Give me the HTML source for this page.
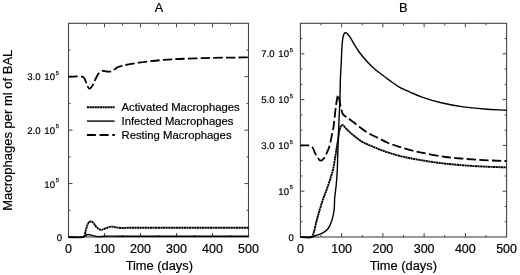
<!DOCTYPE html>
<html><head><meta charset="utf-8"><style>
html,body{margin:0;padding:0;background:#fff;}
body{width:520px;height:275px;overflow:hidden;}
svg{display:block;will-change:transform;}
text{-webkit-font-smoothing:antialiased;}
text{font-family:"Liberation Sans", sans-serif;fill:#000;stroke:#000;stroke-width:0.2px;}
</style></head><body>
<svg width="520" height="275" viewBox="0 0 520 275">
<rect x="68.5" y="23.3" width="180.00" height="213.70" fill="none" stroke="#444" stroke-width="1.1"/>
<line x1="86.50" y1="237.0" x2="86.50" y2="235.0" stroke="#444" stroke-width="1"/>
<line x1="86.50" y1="23.3" x2="86.50" y2="25.3" stroke="#444" stroke-width="1"/>
<line x1="104.50" y1="237.0" x2="104.50" y2="233.0" stroke="#444" stroke-width="1"/>
<line x1="104.50" y1="23.3" x2="104.50" y2="27.3" stroke="#444" stroke-width="1"/>
<line x1="122.50" y1="237.0" x2="122.50" y2="235.0" stroke="#444" stroke-width="1"/>
<line x1="122.50" y1="23.3" x2="122.50" y2="25.3" stroke="#444" stroke-width="1"/>
<line x1="140.50" y1="237.0" x2="140.50" y2="233.0" stroke="#444" stroke-width="1"/>
<line x1="140.50" y1="23.3" x2="140.50" y2="27.3" stroke="#444" stroke-width="1"/>
<line x1="158.50" y1="237.0" x2="158.50" y2="235.0" stroke="#444" stroke-width="1"/>
<line x1="158.50" y1="23.3" x2="158.50" y2="25.3" stroke="#444" stroke-width="1"/>
<line x1="176.50" y1="237.0" x2="176.50" y2="233.0" stroke="#444" stroke-width="1"/>
<line x1="176.50" y1="23.3" x2="176.50" y2="27.3" stroke="#444" stroke-width="1"/>
<line x1="194.50" y1="237.0" x2="194.50" y2="235.0" stroke="#444" stroke-width="1"/>
<line x1="194.50" y1="23.3" x2="194.50" y2="25.3" stroke="#444" stroke-width="1"/>
<line x1="212.50" y1="237.0" x2="212.50" y2="233.0" stroke="#444" stroke-width="1"/>
<line x1="212.50" y1="23.3" x2="212.50" y2="27.3" stroke="#444" stroke-width="1"/>
<line x1="230.50" y1="237.0" x2="230.50" y2="235.0" stroke="#444" stroke-width="1"/>
<line x1="230.50" y1="23.3" x2="230.50" y2="25.3" stroke="#444" stroke-width="1"/>
<line x1="68.5" y1="210.29" x2="70.5" y2="210.29" stroke="#444" stroke-width="1"/>
<line x1="248.5" y1="210.29" x2="246.5" y2="210.29" stroke="#444" stroke-width="1"/>
<line x1="68.5" y1="183.57" x2="72.5" y2="183.57" stroke="#444" stroke-width="1"/>
<line x1="248.5" y1="183.57" x2="244.5" y2="183.57" stroke="#444" stroke-width="1"/>
<line x1="68.5" y1="156.86" x2="70.5" y2="156.86" stroke="#444" stroke-width="1"/>
<line x1="248.5" y1="156.86" x2="246.5" y2="156.86" stroke="#444" stroke-width="1"/>
<line x1="68.5" y1="130.15" x2="72.5" y2="130.15" stroke="#444" stroke-width="1"/>
<line x1="248.5" y1="130.15" x2="244.5" y2="130.15" stroke="#444" stroke-width="1"/>
<line x1="68.5" y1="103.44" x2="70.5" y2="103.44" stroke="#444" stroke-width="1"/>
<line x1="248.5" y1="103.44" x2="246.5" y2="103.44" stroke="#444" stroke-width="1"/>
<line x1="68.5" y1="76.73" x2="72.5" y2="76.73" stroke="#444" stroke-width="1"/>
<line x1="248.5" y1="76.73" x2="244.5" y2="76.73" stroke="#444" stroke-width="1"/>
<line x1="68.5" y1="50.01" x2="70.5" y2="50.01" stroke="#444" stroke-width="1"/>
<line x1="248.5" y1="50.01" x2="246.5" y2="50.01" stroke="#444" stroke-width="1"/>
<rect x="300.4" y="23.3" width="206.20" height="213.70" fill="none" stroke="#444" stroke-width="1.1"/>
<line x1="321.02" y1="237.0" x2="321.02" y2="235.0" stroke="#444" stroke-width="1"/>
<line x1="321.02" y1="23.3" x2="321.02" y2="25.3" stroke="#444" stroke-width="1"/>
<line x1="341.64" y1="237.0" x2="341.64" y2="233.0" stroke="#444" stroke-width="1"/>
<line x1="341.64" y1="23.3" x2="341.64" y2="27.3" stroke="#444" stroke-width="1"/>
<line x1="362.26" y1="237.0" x2="362.26" y2="235.0" stroke="#444" stroke-width="1"/>
<line x1="362.26" y1="23.3" x2="362.26" y2="25.3" stroke="#444" stroke-width="1"/>
<line x1="382.88" y1="237.0" x2="382.88" y2="233.0" stroke="#444" stroke-width="1"/>
<line x1="382.88" y1="23.3" x2="382.88" y2="27.3" stroke="#444" stroke-width="1"/>
<line x1="403.50" y1="237.0" x2="403.50" y2="235.0" stroke="#444" stroke-width="1"/>
<line x1="403.50" y1="23.3" x2="403.50" y2="25.3" stroke="#444" stroke-width="1"/>
<line x1="424.12" y1="237.0" x2="424.12" y2="233.0" stroke="#444" stroke-width="1"/>
<line x1="424.12" y1="23.3" x2="424.12" y2="27.3" stroke="#444" stroke-width="1"/>
<line x1="444.74" y1="237.0" x2="444.74" y2="235.0" stroke="#444" stroke-width="1"/>
<line x1="444.74" y1="23.3" x2="444.74" y2="25.3" stroke="#444" stroke-width="1"/>
<line x1="465.36" y1="237.0" x2="465.36" y2="233.0" stroke="#444" stroke-width="1"/>
<line x1="465.36" y1="23.3" x2="465.36" y2="27.3" stroke="#444" stroke-width="1"/>
<line x1="485.98" y1="237.0" x2="485.98" y2="235.0" stroke="#444" stroke-width="1"/>
<line x1="485.98" y1="23.3" x2="485.98" y2="25.3" stroke="#444" stroke-width="1"/>
<line x1="300.4" y1="221.74" x2="302.4" y2="221.74" stroke="#444" stroke-width="1"/>
<line x1="506.6" y1="221.74" x2="504.6" y2="221.74" stroke="#444" stroke-width="1"/>
<line x1="300.4" y1="206.47" x2="302.4" y2="206.47" stroke="#444" stroke-width="1"/>
<line x1="506.6" y1="206.47" x2="504.6" y2="206.47" stroke="#444" stroke-width="1"/>
<line x1="300.4" y1="191.21" x2="304.4" y2="191.21" stroke="#444" stroke-width="1"/>
<line x1="506.6" y1="191.21" x2="502.6" y2="191.21" stroke="#444" stroke-width="1"/>
<line x1="300.4" y1="175.94" x2="302.4" y2="175.94" stroke="#444" stroke-width="1"/>
<line x1="506.6" y1="175.94" x2="504.6" y2="175.94" stroke="#444" stroke-width="1"/>
<line x1="300.4" y1="160.68" x2="302.4" y2="160.68" stroke="#444" stroke-width="1"/>
<line x1="506.6" y1="160.68" x2="504.6" y2="160.68" stroke="#444" stroke-width="1"/>
<line x1="300.4" y1="145.41" x2="304.4" y2="145.41" stroke="#444" stroke-width="1"/>
<line x1="506.6" y1="145.41" x2="502.6" y2="145.41" stroke="#444" stroke-width="1"/>
<line x1="300.4" y1="130.15" x2="302.4" y2="130.15" stroke="#444" stroke-width="1"/>
<line x1="506.6" y1="130.15" x2="504.6" y2="130.15" stroke="#444" stroke-width="1"/>
<line x1="300.4" y1="114.89" x2="302.4" y2="114.89" stroke="#444" stroke-width="1"/>
<line x1="506.6" y1="114.89" x2="504.6" y2="114.89" stroke="#444" stroke-width="1"/>
<line x1="300.4" y1="99.62" x2="304.4" y2="99.62" stroke="#444" stroke-width="1"/>
<line x1="506.6" y1="99.62" x2="502.6" y2="99.62" stroke="#444" stroke-width="1"/>
<line x1="300.4" y1="84.36" x2="302.4" y2="84.36" stroke="#444" stroke-width="1"/>
<line x1="506.6" y1="84.36" x2="504.6" y2="84.36" stroke="#444" stroke-width="1"/>
<line x1="300.4" y1="69.09" x2="302.4" y2="69.09" stroke="#444" stroke-width="1"/>
<line x1="506.6" y1="69.09" x2="504.6" y2="69.09" stroke="#444" stroke-width="1"/>
<line x1="300.4" y1="53.83" x2="304.4" y2="53.83" stroke="#444" stroke-width="1"/>
<line x1="506.6" y1="53.83" x2="502.6" y2="53.83" stroke="#444" stroke-width="1"/>
<line x1="300.4" y1="38.56" x2="302.4" y2="38.56" stroke="#444" stroke-width="1"/>
<line x1="506.6" y1="38.56" x2="504.6" y2="38.56" stroke="#444" stroke-width="1"/>
<text x="68.50" y="253.3" font-size="12.5" text-anchor="middle">0</text>
<text x="104.50" y="253.3" font-size="12.5" text-anchor="middle">100</text>
<text x="140.50" y="253.3" font-size="12.5" text-anchor="middle">200</text>
<text x="176.50" y="253.3" font-size="12.5" text-anchor="middle">300</text>
<text x="212.50" y="253.3" font-size="12.5" text-anchor="middle">400</text>
<text x="248.50" y="253.3" font-size="12.5" text-anchor="middle">500</text>
<text x="159.30" y="270" font-size="12.85" text-anchor="middle">Time (days)</text>
<text x="300.40" y="253.3" font-size="12.5" text-anchor="middle">0</text>
<text x="341.64" y="253.3" font-size="12.5" text-anchor="middle">100</text>
<text x="382.88" y="253.3" font-size="12.5" text-anchor="middle">200</text>
<text x="424.12" y="253.3" font-size="12.5" text-anchor="middle">300</text>
<text x="465.36" y="253.3" font-size="12.5" text-anchor="middle">400</text>
<text x="506.60" y="253.3" font-size="12.5" text-anchor="middle">500</text>
<text x="403.30" y="270" font-size="12.85" text-anchor="middle">Time (days)</text>
<text x="159.00" y="12.2" font-size="12.6" text-anchor="middle">A</text>
<text x="403.20" y="12.0" font-size="12.9" text-anchor="middle">B</text>
<text x="55.00" y="80.40" font-size="9.6" text-anchor="end" word-spacing="1.1" text-rendering="geometricPrecision">3.0 10</text>
<text x="55.80" y="74.90" font-size="5.7" text-rendering="geometricPrecision">5</text>
<text x="55.00" y="133.65" font-size="9.6" text-anchor="end" word-spacing="1.1" text-rendering="geometricPrecision">2.0 10</text>
<text x="55.80" y="128.15" font-size="5.7" text-rendering="geometricPrecision">5</text>
<text x="55.00" y="187.60" font-size="9.6" text-anchor="end" word-spacing="1.1" text-rendering="geometricPrecision">10</text>
<text x="55.80" y="182.10" font-size="5.7" text-rendering="geometricPrecision">5</text>
<text x="62.20" y="241.10" font-size="9.6" text-anchor="end" word-spacing="1.1" text-rendering="geometricPrecision">0</text>
<text x="289.00" y="57.25" font-size="9.6" text-anchor="end" word-spacing="1.1" text-rendering="geometricPrecision">7.0 10</text>
<text x="289.80" y="51.75" font-size="5.7" text-rendering="geometricPrecision">5</text>
<text x="289.00" y="103.10" font-size="9.6" text-anchor="end" word-spacing="1.1" text-rendering="geometricPrecision">5.0 10</text>
<text x="289.80" y="97.60" font-size="5.7" text-rendering="geometricPrecision">5</text>
<text x="289.00" y="149.10" font-size="9.6" text-anchor="end" word-spacing="1.1" text-rendering="geometricPrecision">3.0 10</text>
<text x="289.80" y="143.60" font-size="5.7" text-rendering="geometricPrecision">5</text>
<text x="289.00" y="194.80" font-size="9.6" text-anchor="end" word-spacing="1.1" text-rendering="geometricPrecision">10</text>
<text x="289.80" y="189.30" font-size="5.7" text-rendering="geometricPrecision">5</text>
<text x="293.90" y="241.00" font-size="9.6" text-anchor="end" word-spacing="1.1" text-rendering="geometricPrecision">0</text>
<text transform="translate(12.2,210.8) rotate(-90)" font-size="13" x="0" y="0">Macrophages per ml of BAL</text>
<line x1="86.9" y1="107.20" x2="114.6" y2="107.20" stroke="#000" stroke-width="1.9" stroke-dasharray="2.2 0.4"/>
<text x="121.5" y="110.90" font-size="11.32">Activated Macrophages</text>
<line x1="86.9" y1="121.10" x2="114.6" y2="121.10" stroke="#000" stroke-width="1.4"/>
<text x="121.5" y="125.00" font-size="11.32">Infected Macrophages</text>
<line x1="86.9" y1="135.00" x2="114.9" y2="135.00" stroke="#000" stroke-width="1.8" stroke-dasharray="9 3.7"/>
<text x="121.5" y="138.90" font-size="11.32">Resting Macrophages</text>
<path d="M68.50,76.70 C73.00,76.70 79.54,76.07 82.00,76.70 C83.01,76.96 83.43,77.20 84.00,77.80 C84.77,78.61 85.24,80.19 85.80,81.50 C86.41,82.91 86.84,84.74 87.50,86.00 C88.04,87.02 88.63,88.45 89.30,88.60 C89.83,88.72 90.47,88.11 91.00,87.60 C91.73,86.90 92.34,85.71 93.00,84.50 C93.84,82.95 94.59,80.80 95.50,79.00 C96.42,77.20 97.31,75.10 98.50,73.70 C99.52,72.50 100.66,71.27 102.00,70.90 C103.36,70.52 105.11,71.40 106.60,71.50 C108.00,71.59 109.43,71.82 110.70,71.50 C111.96,71.18 113.03,70.32 114.20,69.60 C115.46,68.83 116.67,67.64 118.00,67.00 C119.27,66.39 120.64,66.15 122.00,65.80 C123.38,65.45 124.48,65.25 126.20,64.90 C128.94,64.35 133.12,63.49 136.90,62.90 C141.13,62.24 145.90,61.70 150.40,61.20 C154.87,60.70 159.22,60.26 163.80,59.90 C168.61,59.52 173.00,59.27 178.60,59.00 C185.93,58.65 195.48,58.33 204.00,58.10 C212.62,57.86 222.07,57.72 230.00,57.60 C236.69,57.50 242.33,57.47 248.50,57.40" fill="none" stroke="#000" stroke-width="1.8" stroke-dasharray="9.4 3.2" stroke-dashoffset="0.3"/>
<path d="M68.50,237.20 C73.17,237.17 80.02,237.72 82.50,237.10 C83.47,236.86 83.89,236.76 84.40,236.10 C85.29,234.95 85.31,231.73 85.90,229.70 C86.45,227.81 87.12,225.71 87.80,224.30 C88.28,223.31 88.65,222.37 89.30,221.90 C89.86,221.50 90.64,221.26 91.30,221.40 C92.11,221.57 92.91,222.49 93.70,223.30 C94.71,224.34 95.48,226.20 96.70,227.30 C97.94,228.41 99.60,229.76 101.10,229.90 C102.54,230.03 103.92,228.82 105.50,228.30 C107.31,227.71 109.42,226.71 111.40,226.60 C113.35,226.49 115.42,227.36 117.30,227.60 C119.00,227.81 120.50,227.96 122.20,228.00 C124.05,228.04 125.44,227.84 128.00,227.80 C132.98,227.71 140.04,227.80 150.00,227.80 C171.07,227.80 215.67,227.80 248.50,227.80" fill="none" stroke="#000" stroke-width="1.9" stroke-dasharray="2.2 0.4"/>
<path d="M68.50,237.00 C73.30,237.00 79.96,237.85 82.90,237.00 C84.36,236.58 84.92,235.52 85.90,235.10 C86.72,234.75 87.38,234.50 88.30,234.50 C89.55,234.50 91.19,235.26 92.70,235.60 C94.29,235.96 95.82,236.47 97.60,236.60 C99.69,236.75 101.74,236.28 104.50,236.20 C108.63,236.08 112.33,236.20 120.00,236.20 C142.08,236.20 205.67,236.20 248.50,236.20" fill="none" stroke="#000" stroke-width="1.4" stroke-linejoin="round"/>
<path d="M300.40,145.50 C303.27,145.50 306.90,145.13 309.00,145.50 C310.28,145.73 311.08,145.76 312.00,146.60 C313.57,148.04 314.43,152.65 316.00,155.10 C317.38,157.26 319.17,160.53 320.70,160.70 C321.89,160.83 323.25,159.14 324.20,158.00 C325.22,156.78 325.73,155.19 326.50,153.50 C327.45,151.42 328.56,149.09 329.40,146.40 C330.43,143.09 331.17,138.47 331.90,135.00 C332.51,132.10 332.97,130.36 333.50,127.00 C334.40,121.36 335.22,110.11 336.20,104.20 C336.83,100.40 337.54,94.90 338.20,94.90 C338.87,94.90 339.57,101.77 340.20,104.60 C340.69,106.81 341.06,108.75 341.60,110.50 C342.05,111.95 342.31,113.33 343.10,114.40 C343.88,115.46 345.23,116.09 346.30,116.90 C347.36,117.69 348.22,118.24 349.50,119.20 C351.50,120.70 354.41,123.07 357.10,125.10 C360.08,127.35 363.15,129.97 366.60,132.10 C370.28,134.37 374.92,136.35 378.60,138.20 C381.73,139.77 384.08,141.13 387.30,142.50 C391.09,144.12 395.25,145.63 400.00,147.10 C405.88,148.92 412.91,150.72 420.00,152.30 C427.93,154.06 437.97,155.95 445.40,157.00 C451.15,157.81 455.66,158.05 460.80,158.50 C465.93,158.95 471.07,159.37 476.20,159.70 C481.31,160.03 486.42,160.27 491.50,160.50 C496.55,160.73 501.57,160.90 506.60,161.10" fill="none" stroke="#000" stroke-width="1.8" stroke-dasharray="9.3 3.35" stroke-dashoffset="0.6"/>
<path d="M300.40,237.10 C304.00,237.10 309.28,237.99 311.20,237.10 C312.12,236.67 312.36,235.98 312.80,235.20 C313.34,234.23 313.56,233.13 314.00,231.60 C314.75,228.99 315.67,224.46 316.60,220.90 C317.54,217.33 318.50,213.87 319.60,210.20 C320.78,206.26 322.41,201.10 323.50,198.00 C324.18,196.05 324.59,195.22 325.30,193.30 C326.41,190.28 328.13,185.51 329.40,181.60 C330.66,177.74 331.92,174.08 332.90,170.00 C333.96,165.58 334.68,160.28 335.40,156.00 C336.01,152.39 336.49,149.15 337.00,146.00 C337.45,143.18 337.88,140.67 338.30,138.00 C338.72,135.33 338.96,132.10 339.50,130.00 C339.87,128.57 340.24,127.40 340.80,126.50 C341.23,125.81 341.69,124.91 342.30,124.90 C343.20,124.88 344.46,127.00 345.70,128.20 C347.20,129.65 349.07,131.56 350.70,133.00 C352.16,134.29 353.42,135.26 355.00,136.50 C356.87,137.97 358.45,139.57 361.20,141.20 C365.67,143.84 373.57,147.14 380.00,149.60 C386.50,152.08 393.28,154.26 400.00,156.00 C406.62,157.72 413.32,158.83 420.00,160.00 C426.65,161.16 433.26,162.15 440.00,163.00 C446.86,163.86 454.38,164.55 460.80,165.10 C466.31,165.58 471.07,165.90 476.20,166.20 C481.31,166.50 486.42,166.70 491.50,166.90 C496.55,167.10 501.57,167.23 506.60,167.40" fill="none" stroke="#000" stroke-width="1.9" stroke-dasharray="2.2 0.4"/>
<path d="M300.40,237.00 C304.17,237.00 308.80,237.49 311.70,237.00 C313.61,236.68 314.66,235.99 316.30,235.40 C318.19,234.71 320.50,234.15 322.40,233.10 C324.34,232.03 326.31,230.81 327.80,229.00 C329.51,226.92 330.68,223.93 331.70,221.00 C332.84,217.73 333.60,213.93 334.10,210.20 C334.63,206.28 334.36,202.13 334.70,198.00 C335.05,193.73 335.78,189.49 336.20,185.00 C336.65,180.18 337.05,174.92 337.30,170.00 C337.54,165.26 337.54,161.14 337.70,156.00 C337.89,149.71 338.15,141.91 338.40,135.00 C338.65,128.25 338.93,121.19 339.20,115.00 C339.43,109.64 339.70,105.59 339.90,100.00 C340.15,92.94 340.22,82.93 340.50,76.00 C340.72,70.71 341.07,66.67 341.30,62.00 C341.53,57.33 341.65,51.86 341.90,48.00 C342.08,45.26 342.24,43.13 342.50,41.00 C342.72,39.19 342.92,37.36 343.30,36.00 C343.57,35.01 343.86,34.07 344.30,33.50 C344.61,33.10 345.01,32.76 345.40,32.70 C345.78,32.64 346.21,32.86 346.60,33.10 C347.09,33.40 347.49,33.91 348.00,34.50 C348.74,35.37 349.65,36.61 350.50,37.90 C351.54,39.47 352.46,41.27 353.70,43.30 C355.33,45.97 357.35,49.55 359.50,52.50 C361.70,55.52 364.31,58.48 366.80,61.20 C369.18,63.80 371.60,66.27 374.10,68.50 C376.47,70.62 378.88,72.36 381.40,74.30 C384.04,76.33 386.79,78.38 389.60,80.40 C392.49,82.48 395.22,84.70 398.50,86.60 C402.14,88.71 406.68,90.55 410.60,92.30 C414.23,93.93 417.01,95.30 421.20,96.80 C426.99,98.87 435.21,101.31 442.30,103.00 C449.32,104.67 456.42,105.90 463.50,106.90 C470.52,107.89 477.49,108.45 484.60,109.00 C491.85,109.56 499.27,109.80 506.60,110.20" fill="none" stroke="#000" stroke-width="1.4" stroke-linejoin="round"/>
</svg>
</body></html>
